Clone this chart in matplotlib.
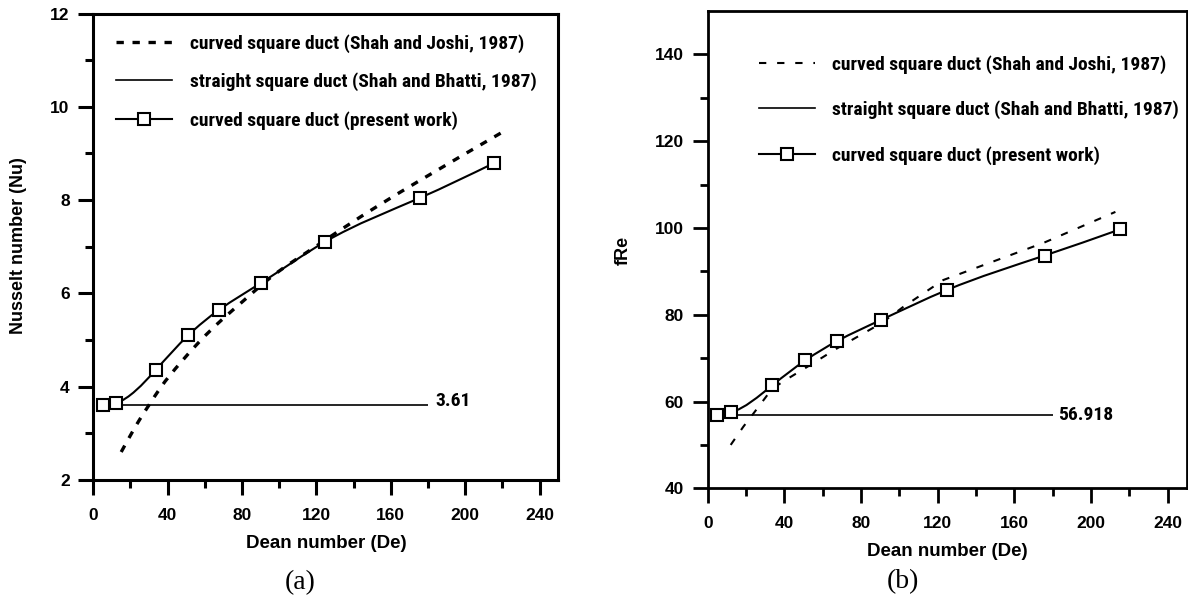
import numpy as np
import matplotlib
matplotlib.use('Agg')
import matplotlib.pyplot as plt
from matplotlib.path import Path
from matplotlib.patches import PathPatch
from matplotlib.lines import Line2D
from matplotlib import font_manager
from matplotlib.font_manager import FontProperties

# Dean numbers of the present-work simulations
de = [5, 12.2, 33.6, 51, 67.4, 90.4, 124.8, 175.8, 215.3]
nu_present = [3.61, 3.65, 4.36, 5.10, 5.64, 6.23, 7.11, 8.05, 8.79]
fre_present = [56.95, 57.5, 63.7, 69.5, 73.9, 78.8, 85.7, 93.65, 99.7]

# Shah and Joshi (1987) curved duct correlations
de_joshi_nu = [15, 25, 30.5, 36, 46.6, 57.4, 69, 80.7, 95, 117.5, 125, 150, 176, 221]
nu_joshi = [2.6, 3.3, 3.64, 3.97, 4.5, 4.98, 5.43, 5.84, 6.33, 6.95, 7.15, 7.8, 8.43, 9.48]
de_joshi_fre = [12, 18.6, 23.8, 33.7, 43, 51.6, 67.3, 90.8, 102, 122.9, 147.3, 175.4, 212.7]
fre_joshi = [50, 54.2, 57.2, 63.0, 65.6, 67.9, 72.2, 78.1, 81.8, 88.0, 92.0, 96.6, 103.7]

# straight square duct (Shah and Bhatti, 1987)
nu_straight = 3.61
fre_straight = 56.918
straight_range = [5, 180]

labels = ['curved square duct (Shah and Joshi, 1987)',
          'straight square duct (Shah and Bhatti, 1987)',
          'curved square duct (present work)']

plt.rcParams['font.family'] = 'Liberation Sans'
plt.rcParams['font.weight'] = 'bold'

# legend font: a condensed bold face if one is installed
fonts = font_manager.fontManager.ttflist
leg_font = FontProperties(family='Liberation Sans', weight='bold')
for fam, stretch in (('Liberation Sans Narrow', None), ('Roboto Condensed', None),
                     ('Open Sans Condensed', None), ('DejaVu Sans', 'condensed')):
    hit = [f for f in fonts if f.name == fam and (stretch is None or 'ondensed' in f.fname)]
    if hit:
        leg_font = FontProperties(family=fam, weight='bold',
                                  stretch=stretch if stretch else 'normal')
        break


def smooth_path(x, y):
    # natural cubic spline through the points, drawn as bezier segments
    x = np.asarray(x, float)
    y = np.asarray(y, float)
    n = len(x)
    h = np.diff(x)
    A = np.zeros((n, n))
    r = np.zeros(n)
    A[0, 0] = A[-1, -1] = 1
    for i in range(1, n - 1):
        A[i, i - 1] = h[i - 1]
        A[i, i] = 2 * (h[i - 1] + h[i])
        A[i, i + 1] = h[i]
        r[i] = 6 * ((y[i + 1] - y[i]) / h[i] - (y[i] - y[i - 1]) / h[i - 1])
    M = np.linalg.solve(A, r)
    m = np.zeros(n)
    for i in range(n - 1):
        m[i] = (y[i + 1] - y[i]) / h[i] - h[i] * (2 * M[i] + M[i + 1]) / 6
    m[-1] = (y[-1] - y[-2]) / h[-1] + h[-1] * (M[-2] + 2 * M[-1]) / 6
    verts = [(x[0], y[0])]
    codes = [Path.MOVETO]
    for i in range(n - 1):
        verts += [(x[i] + h[i] / 3, y[i] + m[i] * h[i] / 3),
                  (x[i + 1] - h[i] / 3, y[i + 1] - m[i + 1] * h[i] / 3),
                  (x[i + 1], y[i + 1])]
        codes += [Path.CURVE4] * 3
    return Path(verts, codes)


W, H = 1188, 599
fig = plt.figure(figsize=(W / 100, H / 100), dpi=100)

# size the legend font so the first label is ~336 px wide, as in the figure
renderer = fig.canvas.get_renderer()
probe = fig.text(0, 0, labels[0], fontproperties=leg_font, fontsize=10)
w10 = probe.get_window_extent(renderer).width
probe.remove()
leg_size = min(14.0, 10 * 336 / w10)
leg_font.set_size(leg_size)
fs_px = leg_size * 100 / 72

ax1 = fig.add_axes([93.3 / W, 1 - 480 / H, (558.2 - 93.3) / W, (480 - 13.5) / H])
ax2 = fig.add_axes([707.7 / W, 1 - 488.3 / H, (1186.9 - 707.7) / W, (488.3 - 11) / H])

# ---- (a) Nusselt number ----
ax1.add_patch(PathPatch(smooth_path(de_joshi_nu, nu_joshi), fill=False, lw=2.4,
                        ls=(0, (2.2, 2.6)), ec='black'))
ax1.hlines(nu_straight, straight_range[0], straight_range[1], color='black', lw=1.2)
ax1.add_patch(PathPatch(smooth_path(de, nu_present), fill=False, lw=1.5, ec='black', zorder=3))
ax1.plot(de, nu_present, ls='none', marker='s', ms=8.5, mfc='white', mec='black', mew=1.5, zorder=4)
ax1.text(184, nu_straight + 0.09, '3.61', va='center', ha='left', fontproperties=leg_font)

ax1.set_xlim(0, 250)
ax1.set_ylim(2, 12)
ax1.set_xticks(np.arange(0, 241, 40))
ax1.set_xticks(np.arange(20, 241, 40), minor=True)
ax1.set_yticks(np.arange(2, 13, 2))
ax1.set_yticks(np.arange(3, 12, 2), minor=True)

h1 = [Line2D([], [], color='black', lw=2.4, ls=(0, (2.2, 2.6))),
      Line2D([], [], color='black', lw=1.2),
      Line2D([], [], color='black', lw=1.5, marker='s', ms=8.5, mfc='white', mew=1.5)]
ax1.legend(h1, labels, loc='center left', bbox_to_anchor=(116 / W, 1 - 82 / H),
           bbox_transform=fig.transFigure, frameon=False, borderpad=0, borderaxespad=0,
           handlelength=56 / fs_px, handletextpad=18 / fs_px,
           labelspacing=(39.5 - 1.0 * fs_px) / fs_px, prop=leg_font)

# ---- (b) friction factor ----
ax2.plot(de_joshi_fre, fre_joshi, color='black', lw=1.5, ls=(0, (3.5, 5.2)))
ax2.hlines(fre_straight, straight_range[0], straight_range[1], color='black', lw=1.2)
ax2.add_patch(PathPatch(smooth_path(de, fre_present), fill=False, lw=1.5, ec='black', zorder=3))
ax2.plot(de, fre_present, ls='none', marker='s', ms=8, mfc='white', mec='black', mew=1.5, zorder=4)
ax2.text(183, fre_straight, '56.918', va='center', ha='left', fontproperties=leg_font)

ax2.set_xlim(0, 250)
ax2.set_ylim(40, 150)
ax2.set_xticks(np.arange(0, 241, 40))
ax2.set_xticks(np.arange(20, 241, 40), minor=True)
ax2.set_yticks(np.arange(40, 141, 20))
ax2.set_yticks(np.arange(50, 131, 20), minor=True)

h2 = [Line2D([], [], color='black', lw=1.5, ls=(0, (3.5, 5.2))),
      Line2D([], [], color='black', lw=1.2),
      Line2D([], [], color='black', lw=1.5, marker='s', ms=8, mfc='white', mew=1.5)]
ax2.legend(h2, labels, loc='center left', bbox_to_anchor=(759 / W, 1 - 110 / H),
           bbox_transform=fig.transFigure, frameon=False, borderpad=0, borderaxespad=0,
           handlelength=56 / fs_px, handletextpad=17 / fs_px,
           labelspacing=(46.5 - 1.0 * fs_px) / fs_px, prop=leg_font)

for ax, sw in ((ax1, 2.2), (ax2, 2.0)):
    for s in ax.spines.values():
        s.set_linewidth(sw)
    ax.tick_params(which='major', direction='out', length=11, width=sw, labelsize=12.5)
    ax.tick_params(which='minor', direction='out', length=5.5, width=sw)
    ax.tick_params(axis='x', which='major', pad=9)
    ax.tick_params(axis='y', which='major', pad=6)

fig.text(18.3 / W, 1 - 246 / H, 'Nusselt number (Nu)', rotation=90, ha='center', va='center',
         fontsize=13, fontweight='bold')
fig.text(623 / W, 1 - 250 / H, 'fRe', rotation=90, ha='center', va='center',
         fontsize=13, fontweight='bold')
fig.text(326 / W, 1 - 543 / H, 'Dean number (De)', ha='center', va='center',
         fontsize=13.5, fontweight='bold')
fig.text(947 / W, 1 - 552 / H, 'Dean number (De)', ha='center', va='center',
         fontsize=13.5, fontweight='bold')
fig.text(300 / W, 1 - 583 / H, '(a)', ha='center', va='center', fontsize=20,
         family='Liberation Serif', fontweight='normal')
fig.text(903 / W, 1 - 582 / H, '(b)', ha='center', va='center', fontsize=20,
         family='Liberation Serif', fontweight='normal')

fig.savefig('out.png', dpi=100)
